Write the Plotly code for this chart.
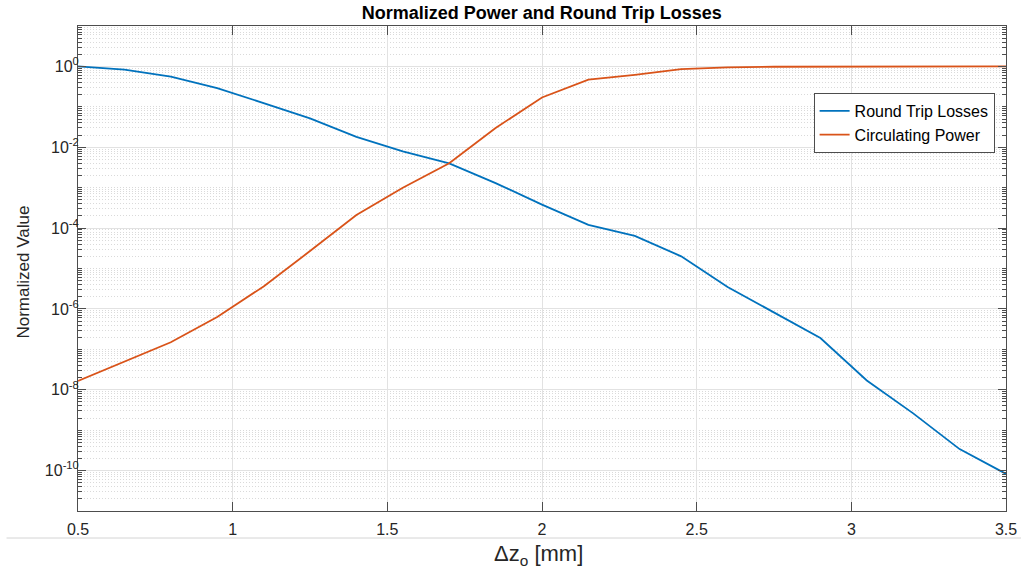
import plotly.graph_objects as go

# Mirror displacement [mm]
dz = [0.5, 0.65, 0.8, 0.95, 1.1, 1.25, 1.4, 1.55, 1.7, 1.85, 2.0,
      2.15, 2.3, 2.45, 2.6, 2.75, 2.9, 3.05, 3.2, 3.35, 3.5]

# Normalized round trip losses
round_trip_losses = [1.0, 0.83, 0.56, 0.29, 0.124, 0.052, 0.018, 0.0079, 0.004,
                     0.0013, 3.8e-4, 1.2e-4, 6.4e-5, 2.0e-5, 3.5e-6, 8.0e-7,
                     1.9e-7, 1.7e-8, 2.6e-9, 3.4e-10, 8.3e-11]

# Normalized circulating power
circulating_power = [1.65e-8, 5.0e-8, 1.5e-7, 6.3e-7, 3.6e-6, 2.7e-5, 2.1e-4,
                     1.0e-3, 4.0e-3, 0.03, 0.17, 0.47, 0.62, 0.86, 0.95, 0.98,
                     0.99, 0.995, 1.0, 1.0, 1.0]

x_tick_vals = [0.5, 1, 1.5, 2, 2.5, 3, 3.5]
x_tick_text = ["0.5", "1", "1.5", "2", "2.5", "3", "3.5"]
y_tick_exponents = [0, -2, -4, -6, -8, -10]

BLUE = "#0072BD"
ORANGE = "#D95319"
AXIS = "#4d4d4d"
TEXT = "#262626"
FONT = "Liberation Sans, Arial, sans-serif"

W, H = 1021, 575
L, R, T, B = 77.5, 1006, 26, 511   # plot box edges in pixels
PW, PH = R - L, B - T


def px_x(p):
    return (p - L) / PW


def px_y(p):
    return (B - p) / PH


y_tick_vals = [10.0 ** e for e in y_tick_exponents]
y_tick_text = [f"10<sup>{e}</sup>" for e in y_tick_exponents]

# minor ticks: 2..9 of every decade, plus the odd decades
y_minor = []
for k in range(-11, 1):
    if k % 2 != 0:
        y_minor.append(10.0 ** k)
    for m in range(2, 10):
        y_minor.append(m * 10.0 ** k)

fig = go.Figure()
fig.add_trace(go.Scatter(x=dz, y=round_trip_losses, mode="lines",
                         name="Round Trip Losses",
                         line=dict(color=BLUE, width=1.8)))
fig.add_trace(go.Scatter(x=dz, y=circulating_power, mode="lines",
                         name="Circulating Power",
                         line=dict(color=ORANGE, width=1.8)))

fig.update_layout(
    width=W, height=H, autosize=False,
    margin=dict(l=L, r=W - R, t=T, b=H - B, autoexpand=False),
    paper_bgcolor="white", plot_bgcolor="white",
    font=dict(family=FONT, color=TEXT, size=16),
    title=dict(text="<b>Normalized Power and Round Trip Losses</b>",
               x=(L + R) / 2 / W, xanchor="center",
               y=1 - 13 / H, yanchor="middle", yref="container",
               font=dict(size=18, color="#000000", family=FONT)),
    legend=dict(x=px_x(813.5), y=px_y(93), xanchor="left", yanchor="top",
                bgcolor="white", bordercolor=AXIS, borderwidth=1,
                font=dict(size=16, color="#000000", family=FONT),
                itemwidth=30, tracegroupgap=0),
    showlegend=True,
)

fig.update_xaxes(
    range=[0.5, 3.5], tickmode="array", tickvals=x_tick_vals, ticktext=x_tick_text,
    ticks="inside", ticklen=9, tickwidth=1, tickcolor=AXIS,
    showline=True, linecolor=AXIS, linewidth=1, mirror="allticks",
    showgrid=True, gridcolor="#e2e2e2", gridwidth=1, automargin=False,
    zeroline=False, tickfont=dict(size=16, color=TEXT), ticklabelstandoff=4,
)

fig.update_yaxes(
    type="log", range=[-11, 1], tickmode="array",
    tickvals=y_tick_vals, ticktext=y_tick_text,
    ticks="inside", ticklen=8, tickwidth=1, tickcolor=AXIS,
    showline=True, linecolor=AXIS, linewidth=1, mirror="allticks",
    showgrid=True, gridcolor="#e2e2e2", gridwidth=1, automargin=False,
    zeroline=False, tickfont=dict(size=16, color=TEXT), ticklabelstandoff=-5,
    minor=dict(tickmode="array", tickvals=y_minor, ticks="inside", ticklen=4,
               tickcolor=AXIS, showgrid=True, gridcolor="#dadada",
               griddash="1px,2px", gridwidth=1),
)

# axis titles
fig.add_annotation(text="Δz<sub>o</sub> [mm]", xref="paper", yref="paper",
                   x=px_x(538), y=px_y(555), xanchor="center", yanchor="middle",
                   showarrow=False, font=dict(size=22, color=TEXT, family=FONT))
fig.add_annotation(text="Normalized Value", xref="paper", yref="paper",
                   x=px_x(22), y=px_y(272), textangle=-90,
                   xanchor="center", yanchor="middle", showarrow=False,
                   font=dict(size=17, color=TEXT, family=FONT))

# thin separator below the tick labels
fig.add_shape(type="line", xref="paper", yref="paper",
              x0=px_x(6), x1=px_x(W), y0=px_y(538), y1=px_y(538),
              line=dict(color="#d4d4d4", width=1))

fig.write_html("out.html")
